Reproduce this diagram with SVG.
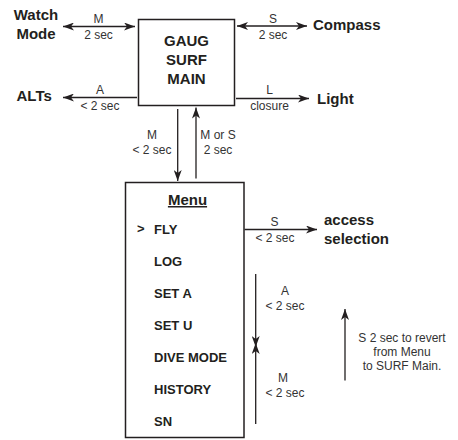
<svg xmlns="http://www.w3.org/2000/svg" width="458" height="440" viewBox="0 0 458 440">
<defs>
<marker id="ah" viewBox="0 0 11 8" refX="11" refY="4" markerWidth="11" markerHeight="8" markerUnits="userSpaceOnUse" orient="auto-start-reverse">
<path d="M0,0 L11,4 L0,8 L3,4 z" fill="#231f20"/>
</marker>
<style>
.box{fill:#fff;stroke:#231f20;stroke-width:1.5}
.ln{stroke:#231f20;stroke-width:1.3;fill:none}
.b{font-family:"Liberation Sans",Arial,sans-serif;font-weight:bold;fill:#231f20}
.big{font-size:15px}
.item{font-size:13px}
.lbl{font-family:"Liberation Sans",Arial,sans-serif;font-size:12px;fill:#333}
.m{text-anchor:middle}
</style>
</defs>
<rect width="458" height="440" fill="#fff"/>
<g id="connectors">
<line class="ln" x1="63" y1="26.5" x2="135" y2="26.5" marker-start="url(#ah)" marker-end="url(#ah)"/>
<line class="ln" x1="237" y1="26" x2="307" y2="26" marker-start="url(#ah)" marker-end="url(#ah)"/>
<line class="ln" x1="137" y1="97.5" x2="63" y2="97.5" marker-end="url(#ah)"/>
<line class="ln" x1="236" y1="98.5" x2="309" y2="98.5" marker-end="url(#ah)"/>
<line class="ln" x1="177.7" y1="109" x2="177.7" y2="181" marker-end="url(#ah)"/>
<line class="ln" x1="196" y1="178.5" x2="196" y2="107.5" marker-end="url(#ah)"/>
<line class="ln" x1="244.5" y1="229.5" x2="317" y2="229.5" marker-end="url(#ah)"/>
<line class="ln" x1="255.7" y1="274" x2="255.7" y2="347" marker-end="url(#ah)"/>
<line class="ln" x1="255.7" y1="424" x2="255.7" y2="343" marker-end="url(#ah)"/>
<line class="ln" x1="345" y1="380.5" x2="345" y2="309" marker-end="url(#ah)"/>
<text class="lbl m" x="98.5" y="23">M</text>
<text class="lbl m" x="98.5" y="38.5">2 sec</text>
<text class="lbl m" x="273" y="23">S</text>
<text class="lbl m" x="273" y="38.5">2 sec</text>
<text class="lbl m" x="100" y="93.5">A</text>
<text class="lbl m" x="100" y="110">&lt; 2 sec</text>
<text class="lbl m" x="269.5" y="93.5">L</text>
<text class="lbl m" x="269.5" y="110">closure</text>
<text class="lbl m" x="152" y="138.5">M</text>
<text class="lbl m" x="152" y="154">&lt; 2 sec</text>
<text class="lbl m" x="218" y="138.5">M or S</text>
<text class="lbl m" x="218" y="154">2 sec</text>
<text class="lbl m" x="274.5" y="225.5">S</text>
<text class="lbl m" x="275" y="241.5">&lt; 2 sec</text>
<text class="lbl m" x="285" y="294.5">A</text>
<text class="lbl m" x="285" y="310">&lt; 2 sec</text>
<text class="lbl m" x="283" y="381.5">M</text>
<text class="lbl m" x="285" y="397">&lt; 2 sec</text>
<text class="lbl m" x="402" y="342">S 2 sec to revert</text>
<text class="lbl m" x="402" y="356">from Menu</text>
<text class="lbl m" x="402" y="370">to SURF Main.</text>
</g>
<g id="gaug-surf-main">
<rect class="box" x="138.5" y="19.5" width="96" height="86"/>
<text class="b big m" x="186.5" y="46">GAUG</text>
<text class="b big m" x="186.5" y="65">SURF</text>
<text class="b big m" x="186.5" y="84">MAIN</text>
</g>
<g id="watch-mode">
<text class="b big m" x="36" y="19.5">Watch</text>
<text class="b big m" x="36" y="38.5">Mode</text>
</g>
<g id="compass">
<text class="b big" x="313" y="30">Compass</text>
</g>
<g id="alts">
<text class="b big" x="16.5" y="101">ALTs</text>
</g>
<g id="light">
<text class="b big" x="317" y="103.5">Light</text>
</g>
<g id="access-selection">
<text class="b big" x="324" y="225">access</text>
<text class="b big" x="324" y="244">selection</text>
</g>
<g id="menu">
<rect class="box" x="125.5" y="182.5" width="118.5" height="255"/>
<text class="b big m" x="187.5" y="205" text-decoration="underline">Menu</text>
<text class="b item" x="137" y="233">&gt;</text>
<text class="b item" x="154" y="234">FLY</text>
<text class="b item" x="154" y="266">LOG</text>
<text class="b item" x="154" y="298">SET A</text>
<text class="b item" x="154" y="330">SET U</text>
<text class="b item" x="154" y="362">DIVE MODE</text>
<text class="b item" x="154" y="394">HISTORY</text>
<text class="b item" x="154" y="426">SN</text>
</g>
</svg>
